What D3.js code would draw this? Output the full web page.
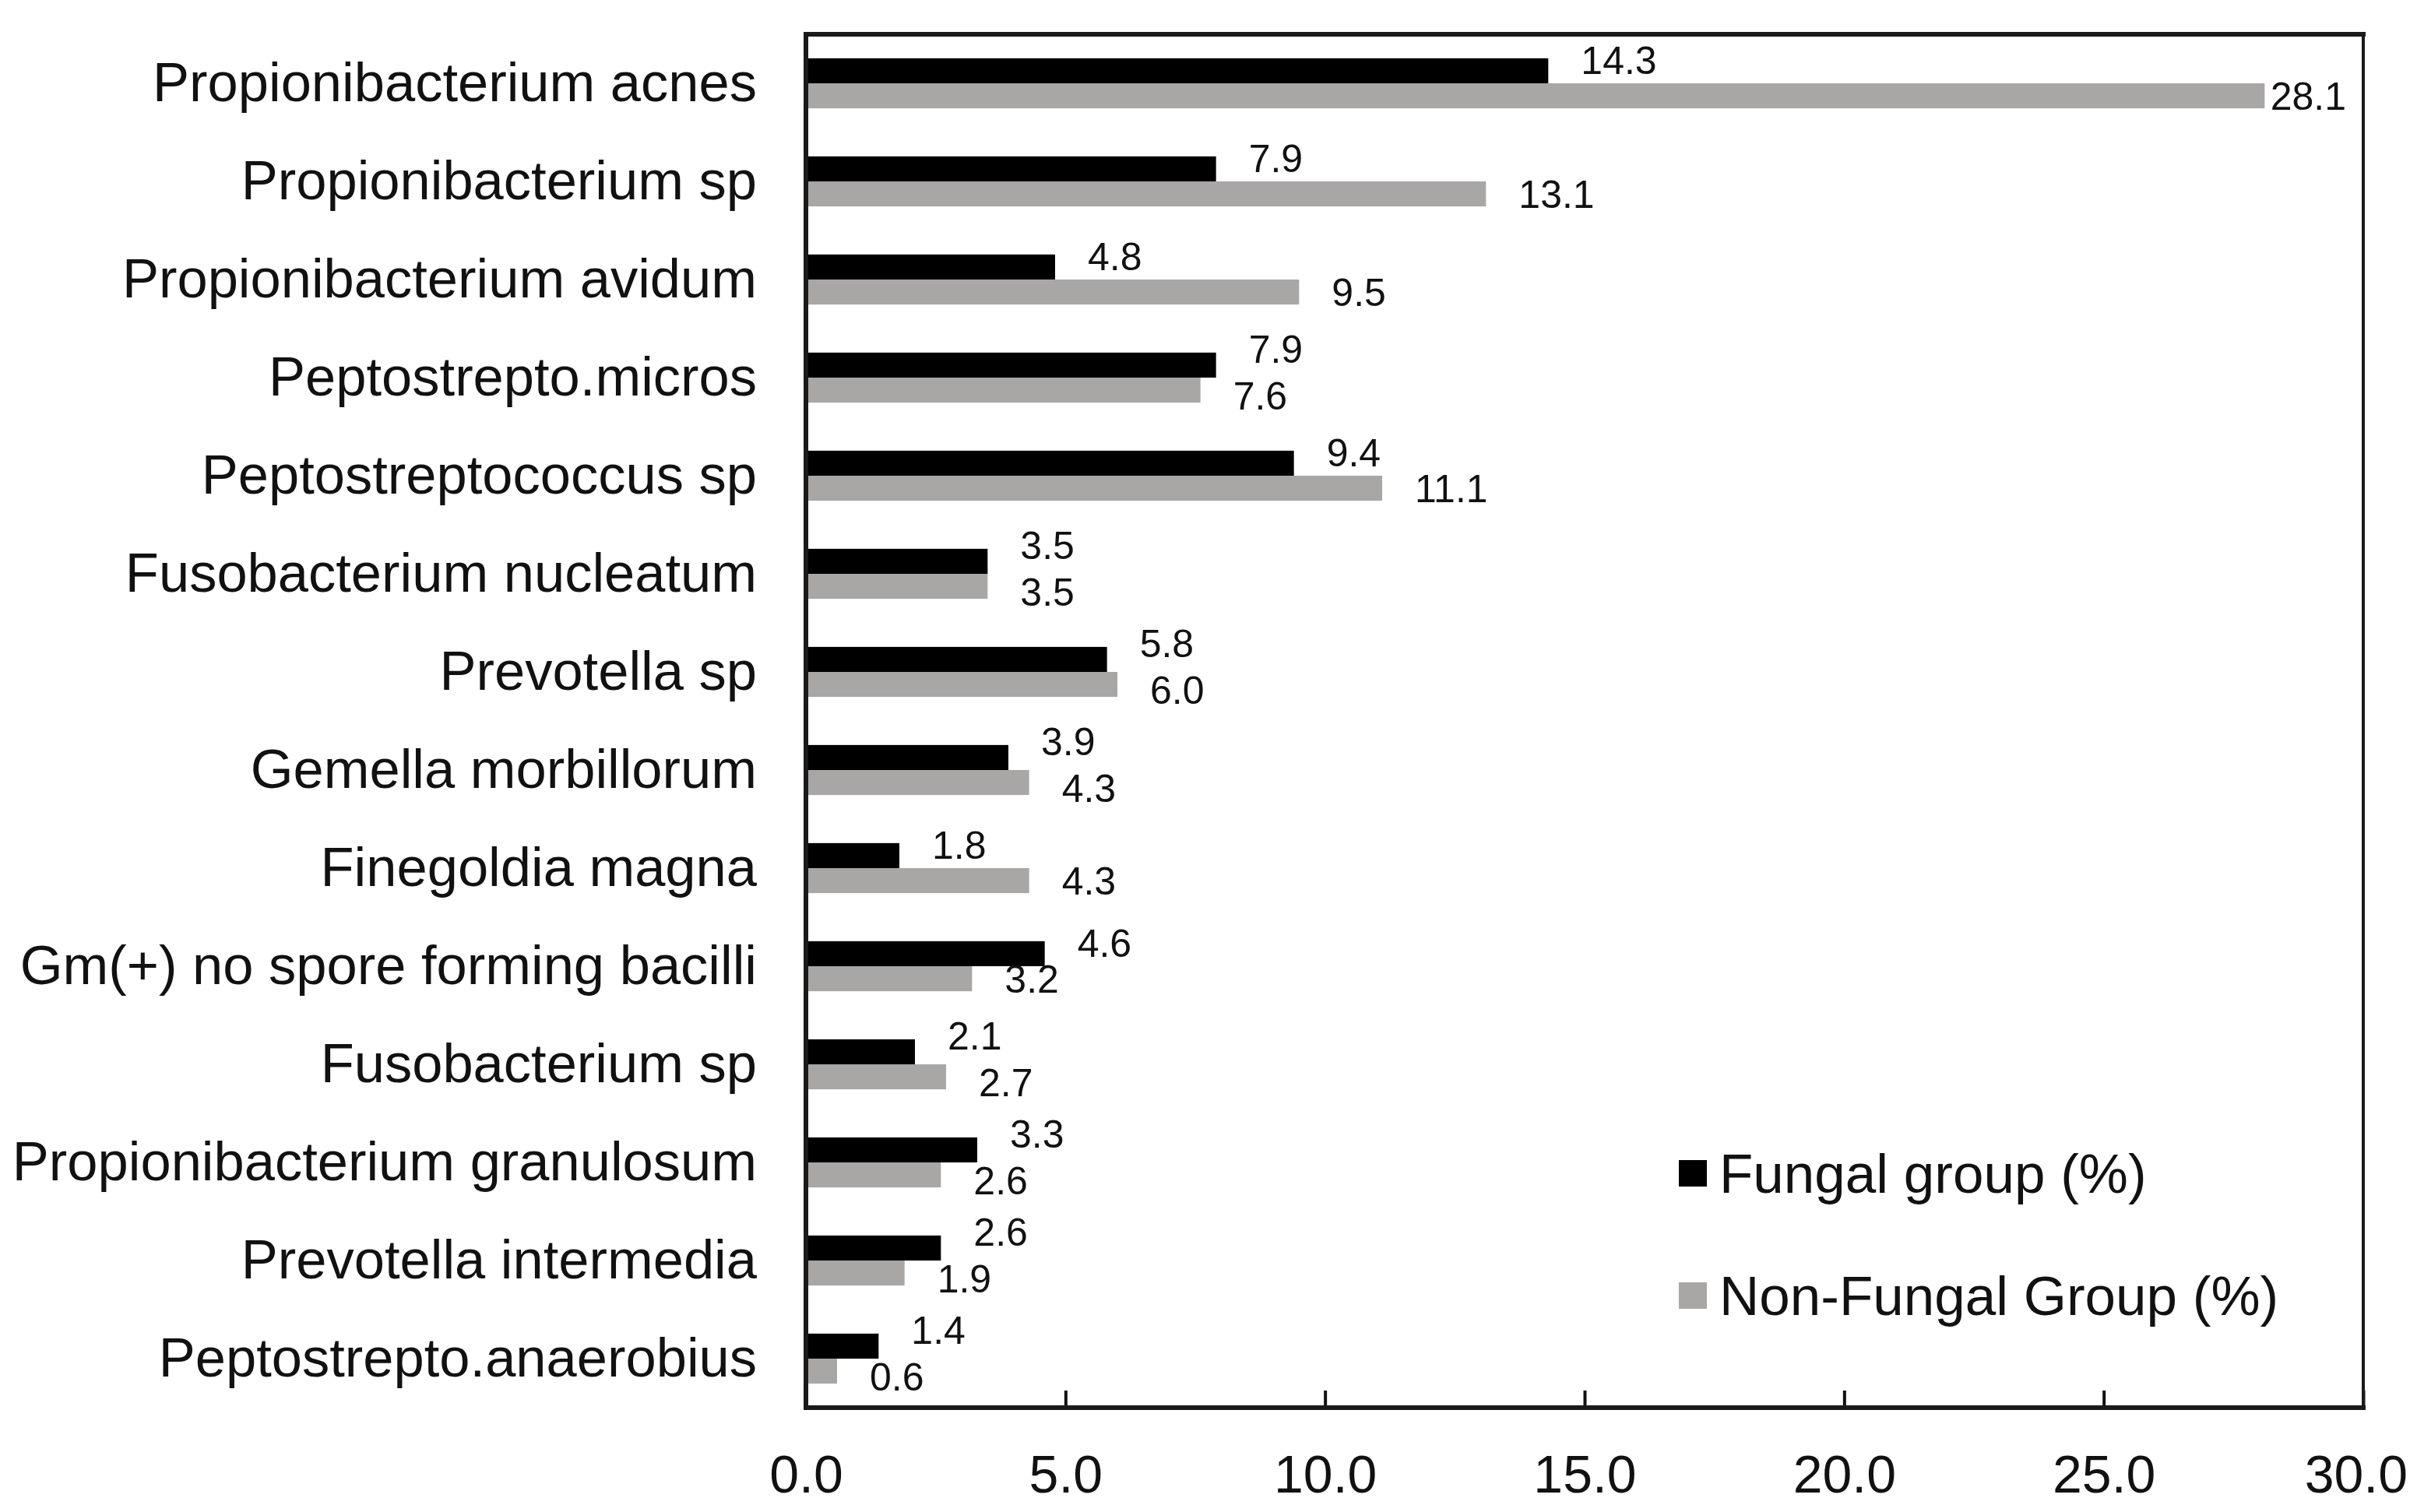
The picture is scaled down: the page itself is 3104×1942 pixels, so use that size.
<!DOCTYPE html>
<html>
<head>
<meta charset="utf-8">
<script src="https://cdn.jsdelivr.net/npm/d3@7"></script>
<style>
  html, body { margin: 0; padding: 0; background: #ffffff; }
  svg { display: block; }
  text { font-family: "Liberation Sans", Arial, Helvetica, sans-serif; fill: #111; }
</style>
</head>
<body>
<svg id="chart" width="3104" height="1942"></svg>
<script>
// ---------------- DATA ----------------
const categories = [
  "Propionibacterium acnes",
  "Propionibacterium sp",
  "Propionibacterium avidum",
  "Peptostrepto.micros",
  "Peptostreptococcus sp",
  "Fusobacterium nucleatum",
  "Prevotella sp",
  "Gemella morbillorum",
  "Finegoldia magna",
  "Gm(+) no spore forming bacilli",
  "Fusobacterium sp",
  "Propionibacterium granulosum",
  "Prevotella intermedia",
  "Peptostrepto.anaerobius"
];
const fungal    = [14.3, 7.9, 4.8, 7.9, 9.4, 3.5, 5.8, 3.9, 1.8, 4.6, 2.1, 3.3, 2.6, 1.4];
const nonFungal = [28.1, 13.1, 9.5, 7.6, 11.1, 3.5, 6.0, 4.3, 4.3, 3.2, 2.7, 2.6, 1.9, 0.6];
const seriesNames = ["Fungal group (%)", "Non-Fungal Group (%)"];
const xTicks = [0, 5, 10, 15, 20, 25, 30];

// ---------------- LAYOUT ----------------
const W = 3104, H = 1942;
const plot = { left: 1035, right: 3035, top: 44, bottom: 1808 };
const colors = ["#000000", "#a9a6a6"];
const fontFamily = '"Liberation Sans", Arial, Helvetica, sans-serif';

const svg = d3.select("#chart");
svg.append("rect").attr("width", W).attr("height", H).attr("fill", "#ffffff");

const x = d3.scaleLinear().domain([0, 30]).range([plot.left, plot.right]);
const y = d3.scaleBand().domain(categories).range([plot.top, plot.bottom])
  .paddingInner(0.49).paddingOuter(0.245);
const sub = d3.scaleBand().domain([0, 1]).range([0, y.bandwidth()]);

const rows = categories.map((c, i) => ({ cat: c, vals: [fungal[i], nonFungal[i]] }));

// Bars
const g = svg.append("g");
rows.forEach(r => {
  r.vals.forEach((v, s) => {
    g.append("rect")
      .attr("x", x(0))
      .attr("y", y(r.cat) + sub(s))
      .attr("width", x(v) - x(0))
      .attr("height", sub.bandwidth())
      .attr("fill", colors[s]);
  });
});

// Value labels
const labelFont = 50;
const labelG = svg.append("g").attr("font-size", labelFont);
const labelGap = 42;
const labelLimit = plot.right - 22;
const minSep = labelFont * 1.2;
rows.forEach(r => {
  const items = r.vals.map((v, s) => {
    const cy = y(r.cat) + sub(s) + sub.bandwidth() / 2 + (s === 0 ? -14 : 0);
    const t = labelG.append("text")
      .attr("x", x(v) + labelGap)
      .attr("dy", "0.36em")
      .attr("text-anchor", "start")
      .text(d3.format(".1f")(v));
    const w = t.node().getComputedTextLength();
    let lx = x(v) + labelGap;
    if (lx + w > labelLimit) lx = labelLimit - w;
    t.attr("x", lx);
    return { t, cy, lx, w };
  });
  const [a, b] = items;
  const hOverlap = a.lx < b.lx + b.w + 4 && b.lx < a.lx + a.w + 4;
  if (hOverlap && b.cy - a.cy < minSep) {
    const extra = (minSep - (b.cy - a.cy)) / 2;
    a.cy -= extra;
    b.cy += extra;
  }
  items.forEach(it => it.t.attr("y", it.cy));
});

// X axis (ticks inward, labels below)
const xAxis = d3.axisBottom(x)
  .tickValues(xTicks)
  .tickFormat(d3.format(".1f"))
  .tickSizeInner(-22)
  .tickSizeOuter(0)
  .tickPadding(61);
const xg = svg.append("g")
  .attr("transform", `translate(0,${plot.bottom})`)
  .call(xAxis);
xg.select(".domain").remove();
xg.selectAll(".tick line").attr("stroke", "#111").attr("stroke-width", 4);
xg.selectAll(".tick text")
  .attr("font-size", 68)
  .attr("font-family", fontFamily)
  .attr("fill", "#111")
  .each(function () {
    const bb = this.getBBox();
    const tr = this.parentNode.transform.baseVal.consolidate().matrix.e;
    const right = tr + bb.x + bb.width;
    if (right > W - 12) d3.select(this).attr("x", (W - 12) - right);
  });

// Y axis (category labels)
const yAxis = d3.axisLeft(y).tickSize(0).tickPadding(63);
const yg = svg.append("g")
  .attr("transform", `translate(${plot.left},0)`)
  .call(yAxis);
yg.select(".domain").remove();
yg.selectAll(".tick text")
  .attr("font-size", 70.5)
  .attr("font-family", fontFamily)
  .attr("fill", "#111");

// Frame
const frame = svg.append("g").attr("stroke", "#1a1a1a").attr("stroke-linecap", "square");
frame.append("line").attr("x1", plot.left).attr("x2", plot.right).attr("y1", plot.top).attr("y2", plot.top).attr("stroke-width", 6);
frame.append("line").attr("x1", plot.left).attr("x2", plot.right).attr("y1", plot.bottom).attr("y2", plot.bottom).attr("stroke-width", 6);
frame.append("line").attr("x1", plot.left).attr("x2", plot.left).attr("y1", plot.top).attr("y2", plot.bottom).attr("stroke-width", 6);
frame.append("line").attr("x1", plot.right).attr("x2", plot.right).attr("y1", plot.top).attr("y2", plot.bottom).attr("stroke-width", 4);

// Legend
const legend = svg.append("g").attr("transform", "translate(2156,1490)");
seriesNames.forEach((name, i) => {
  const row = legend.append("g").attr("transform", `translate(0,${i * 157})`);
  row.append("rect").attr("x", 0).attr("y", 0).attr("width", 36).attr("height", 34).attr("fill", colors[i]);
  row.append("text").attr("x", 52).attr("y", 42).attr("font-size", 71).text(name);
});
</script>
</body>
</html>
